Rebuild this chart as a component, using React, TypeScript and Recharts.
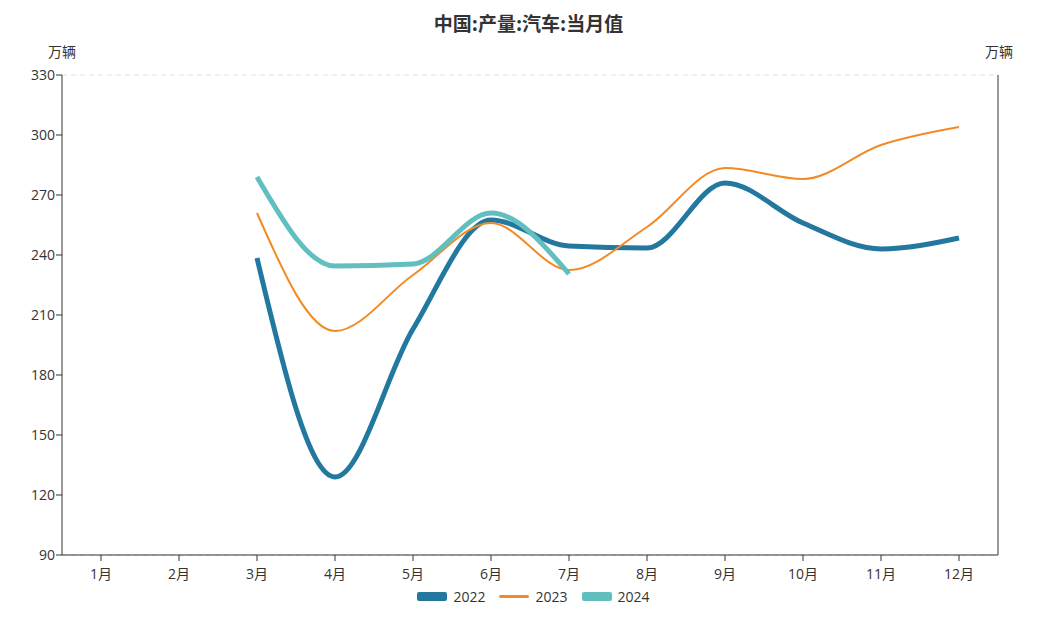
import { LineChart, Line, XAxis, YAxis, CartesianGrid, Legend } from "recharts";

const months = ["1月", "2月", "3月", "4月", "5月", "6月", "7月", "8月", "9月", "10月", "11月", "12月"];
const s2022 = [null, null, 238.5, 129, 203, 257.5, 244.5, 243.5, 276, 256, 243, 248.5];
const s2023 = [null, null, 261, 202, 230, 256, 232.5, 254, 283.5, 278, 295, 304];
const s2024 = [null, null, 279, 234.5, 235.5, 261, 230.5, null, null, null, null, null];
const yTicks = [90, 120, 150, 180, 210, 240, 270, 300, 330];

const series = [
  { key: "2022", color: "#23789f", width: 5 },
  { key: "2023", color: "#f28b26", width: 2 },
  { key: "2024", color: "#62bfbf", width: 5 },
];

// build table for recharts
const data = months.map((m, i) => ({
  month: m,
  "2022": s2022[i],
  "2023": s2023[i],
  "2024": s2024[i],
}));

const FONT = "'Open Sans', 'Noto Sans CJK SC', sans-serif";

function LegendBox() {
  return (
    <div style={{ display: "flex", justifyContent: "center", gap: 14, fontFamily: FONT, fontSize: 14, color: "#333", paddingLeft: 10 }}>
      {series.map((s) => (
        <div key={s.key} style={{ display: "flex", alignItems: "center" }}>
          <span
            style={{
              display: "inline-block",
              width: 30,
              height: s.width === 5 ? 9 : 3,
              background: s.color,
              borderRadius: 2,
              marginRight: 6,
            }}
          />
          <span>{s.key}</span>
        </div>
      ))}
    </div>
  );
}

export default function App() {
  return (
    <div style={{ position: "relative", width: 1041, height: 616, fontFamily: FONT }}>
      <div
        style={{
          position: "absolute",
          top: 1,
          left: 0,
          width: 1041,
          textAlign: "center",
          fontSize: 19,
          fontWeight: "bold",
          color: "#333",
          fontFamily: "'Noto Sans CJK SC', sans-serif",
        }}
      >
        中国:产量:汽车:当月值
      </div>
      <div style={{ position: "absolute", top: 33, left: 40, fontSize: 14, color: "#333", fontFamily: "'Noto Sans CJK SC', sans-serif" }}>万辆</div>
      <div style={{ position: "absolute", top: 33, left: 977, fontSize: 14, color: "#333", fontFamily: "'Noto Sans CJK SC', sans-serif" }}>万辆</div>
      <LineChart width={1041} height={616} data={data} margin={{ top: 67, right: 0, left: 0, bottom: 39 }}>
        <CartesianGrid vertical={false} stroke="#e0e0e0" strokeDasharray="5 4" />
        <XAxis
          dataKey="month"
          height={30}
          stroke="#333"
          tick={{ fill: "#333", fontSize: 14 }}
          tickSize={6}
          tickMargin={8}
          interval={0}
          padding={{ left: 39, right: 39 }}
        />
        <YAxis
          yAxisId="left"
          orientation="left"
          width={54}
          domain={[90, 330]}
          ticks={yTicks}
          stroke="#333"
          tick={{ fill: "#333", fontSize: 14 }}
          tickSize={6}
          tickMargin={1}
        />
        <YAxis
          yAxisId="right"
          orientation="right"
          width={51}
          domain={[90, 330]}
          ticks={yTicks}
          stroke="#333"
          tick={{ fill: "#333", fontSize: 14 }}
          tickSize={6}
          tickMargin={1}
        />
        <Legend
          verticalAlign="middle"
          content={() => <LegendBox />}
          wrapperStyle={{ top: 579, left: 0, width: 1041 }}
        />
        {series.map((s) => (
          <Line
            key={s.key}
            yAxisId="left"
            type="monotone"
            dataKey={s.key}
            stroke={s.color}
            strokeWidth={s.width}
            dot={false}
            activeDot={false}
            connectNulls={false}
            isAnimationActive={false}
          />
        ))}
      </LineChart>
    </div>
  );
}
